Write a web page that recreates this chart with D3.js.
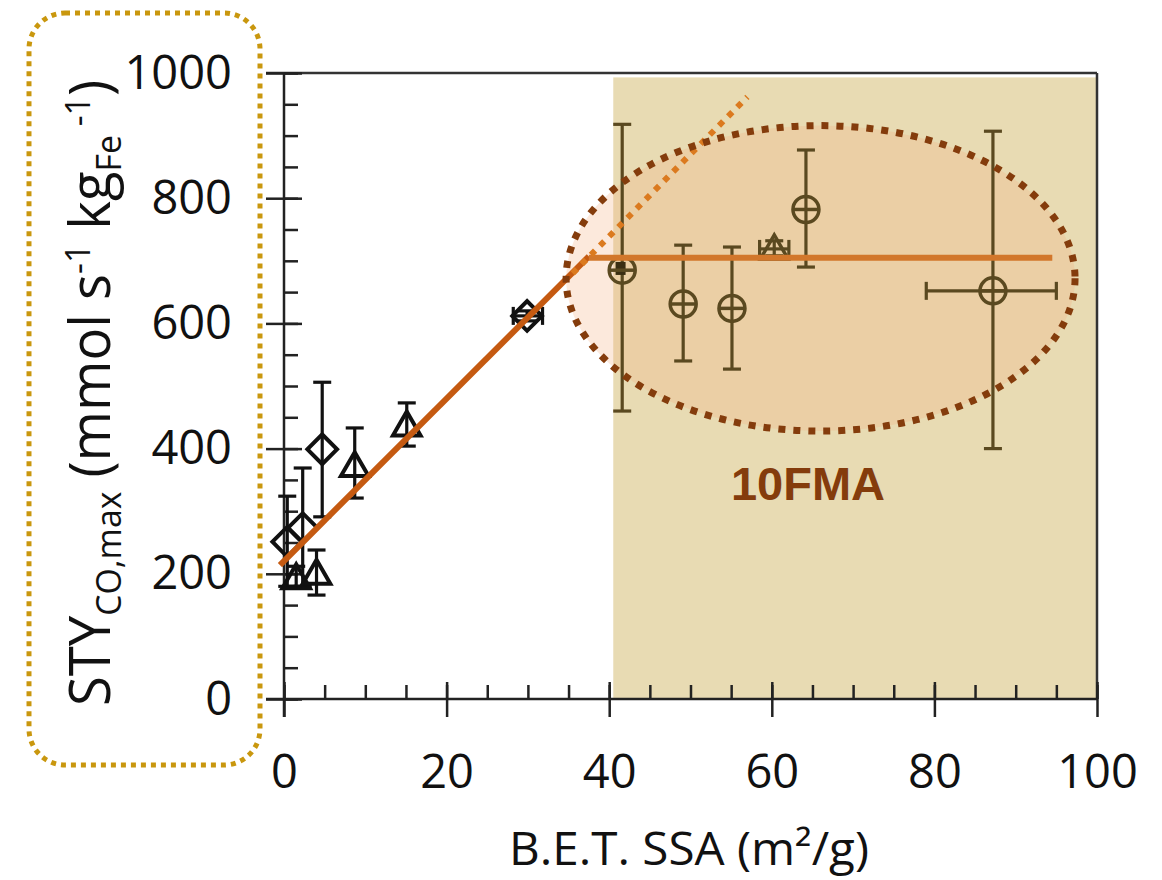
<!DOCTYPE html>
<html>
<head>
<meta charset="utf-8">
<script src="https://cdn.jsdelivr.net/npm/d3@7"></script>
<style>
  html, body { margin: 0; padding: 0; background: #fff; }
  svg { display: block; }
  .tick text { font-family: "Open Sans", sans-serif; font-size: 47px; fill: #111; }
</style>
</head>
<body>
<svg id="chart" width="1162" height="880"></svg>
<script>
// data
const xMajor = [0, 20, 40, 60, 80, 100];
const yMajor = [0, 200, 400, 600, 800, 1000];
const xMinor = d3.range(0, 101, 5);
const yMinor = d3.range(0, 1001, 50);

// open diamonds (low area samples)
const diamonds = [
  { x: 0.4, y: 251, lo: 180, hi: 324 },
  { x: 2.3, y: 273, lo: 180, hi: 369 },
  { x: 4.7, y: 399, lo: 291, hi: 506 },
  { x: 29.9, y: 612, lo: 604, hi: 620, xlo: 28.2, xhi: 31.8 }
];
// open triangles
const triangles = [
  { x: 1.5, y: 193, lo: 180, hi: 212 },
  { x: 4.0, y: 200, lo: 166, hi: 238 },
  { x: 8.7, y: 372, lo: 321, hi: 433 },
  { x: 15.1, y: 437, lo: 404, hi: 473 }
];
// 10FMA circles
const circles = [
  { x: 41.6, y: 685, lo: 460, hi: 918 },
  { x: 49.1, y: 631, lo: 540, hi: 725 },
  { x: 55.1, y: 624, lo: 527, hi: 722 },
  { x: 64.2, y: 782, lo: 690, hi: 877 },
  { x: 87.2, y: 652, lo: 400, hi: 907, xlo: 79.0, xhi: 95.0 }
];
const fmaTriangles = [
  { x: 60.3, y: 719, lo: 708, hi: 732, xlo: 58.5, xhi: 62.1 }
];
const fmaSquares = [{ x: 41.4, y: 687 }];

// piecewise fit
const fitRise = [{ x: -0.5, y: 214 }, { x: 37.5, y: 707 }];
const fitFlat = [{ x: 37.5, y: 705 }, { x: 94.5, y: 705 }];
const fitExtension = [{ x: 35.5, y: 680 }, { x: 57.0, y: 962 }];
const fmaRegion = { x0: 40.5, x1: 100, y0: 0, y1: 993 };
const fmaEllipse = { cx: 66.0, cy: 672, rx: 31.3, ry: 244 };

const svg = d3.select("#chart");
const x = d3.scaleLinear().domain([0, 100]).range([284, 1097]);
const y = d3.scaleLinear().domain([0, 1000]).range([699, 73]);

const DARK = "#5a4920";

// shaded 10FMA region
svg.append("rect")
  .attr("x", x(fmaRegion.x0)).attr("y", y(fmaRegion.y1))
  .attr("width", x(fmaRegion.x1) - x(fmaRegion.x0))
  .attr("height", y(fmaRegion.y0) - y(fmaRegion.y1))
  .attr("fill", "#e8dbb3");

// ellipse fill
svg.append("ellipse")
  .attr("cx", x(fmaEllipse.cx)).attr("cy", y(fmaEllipse.cy))
  .attr("rx", x(fmaEllipse.rx) - x(0)).attr("ry", y(0) - y(fmaEllipse.ry))
  .attr("fill", "#f4b183").attr("fill-opacity", 0.28);

// frame
const frame = svg.append("g").attr("stroke", "#333").attr("stroke-width", 2.5).attr("fill", "none");
frame.append("line").attr("x1", 266).attr("x2", x(100)).attr("y1", y(1000)).attr("y2", y(1000));
frame.append("line").attr("x1", x(100)).attr("x2", x(100)).attr("y1", y(1000)).attr("y2", y(0));

// axes: minor ticks inward, major crossing
function styleAxis(g) {
  g.select(".domain").remove();
  g.selectAll(".tick line").attr("stroke", "#222").attr("stroke-width", 2.5);
}
svg.append("g").attr("transform", `translate(0,${y(0)})`)
  .call(d3.axisBottom(x).tickValues(xMinor).tickSize(-14).tickFormat(""))
  .call(styleAxis);
svg.append("g").attr("transform", `translate(0,${y(0)})`)
  .call(d3.axisBottom(x).tickValues(xMajor).tickSize(-17).tickFormat(""))
  .call(styleAxis);
svg.append("g").attr("transform", `translate(0,${y(0)})`)
  .call(d3.axisBottom(x).tickValues(xMajor).tickSize(18).tickPadding(38).tickFormat(d3.format("d")))
  .call(styleAxis);

svg.append("g").attr("transform", `translate(${x(0)},0)`)
  .call(d3.axisLeft(y).tickValues(yMinor).tickSize(-14).tickFormat(""))
  .call(styleAxis);
svg.append("g").attr("transform", `translate(${x(0)},0)`)
  .call(d3.axisLeft(y).tickValues(yMajor).tickSize(-18).tickFormat(""))
  .call(styleAxis);
svg.append("g").attr("transform", `translate(${x(0)},0)`)
  .call(d3.axisLeft(y).tickValues(yMajor).tickSize(18).tickPadding(34).tickFormat(d3.format("d")))
  .call(styleAxis);

// axis lines
const axl = svg.append("g").attr("stroke", "#222").attr("stroke-width", 2.5);
axl.append("line").attr("x1", 266).attr("x2", x(100)).attr("y1", y(0)).attr("y2", y(0));
axl.append("line").attr("x1", x(0)).attr("x2", x(0)).attr("y1", y(1000)).attr("y2", 717);

// error bars
function errorBars(data, color) {
  const g = svg.append("g").attr("stroke", color).attr("stroke-width", 3.2).attr("fill", "none");
  const cap = 9;
  data.forEach(d => {
    if (d.lo != null) {
      g.append("line").attr("x1", x(d.x)).attr("x2", x(d.x)).attr("y1", y(d.lo)).attr("y2", y(d.hi));
      [d.lo, d.hi].forEach(v => g.append("line")
        .attr("x1", x(d.x) - cap).attr("x2", x(d.x) + cap).attr("y1", y(v)).attr("y2", y(v)));
    }
    if (d.xlo != null) {
      g.append("line").attr("x1", x(d.xlo)).attr("x2", x(d.xhi)).attr("y1", y(d.y)).attr("y2", y(d.y));
      [d.xlo, d.xhi].forEach(v => g.append("line")
        .attr("x1", x(v)).attr("x2", x(v)).attr("y1", y(d.y) - cap).attr("y2", y(d.y) + cap));
    }
  });
}
errorBars(diamonds, "#111");
errorBars(triangles, "#111");
errorBars(circles, DARK);
errorBars(fmaTriangles, DARK);

// markers
svg.append("g").selectAll("path").data(diamonds).join("path")
  .attr("d", d3.symbol(d3.symbolSquare, 440))
  .attr("transform", d => `translate(${x(d.x)},${y(d.y)}) rotate(45)`)
  .attr("fill", "none").attr("stroke", "#111").attr("stroke-width", 4);
svg.append("g").selectAll("path").data(triangles).join("path")
  .attr("d", d3.symbol(d3.symbolTriangle, 330))
  .attr("transform", d => `translate(${x(d.x)},${y(d.y) + 2})`)
  .attr("fill", "none").attr("stroke", "#111").attr("stroke-width", 4);
svg.append("g").selectAll("path").data(fmaTriangles).join("path")
  .attr("d", d3.symbol(d3.symbolTriangle, 330))
  .attr("transform", d => `translate(${x(d.x)},${y(d.y) + 2})`)
  .attr("fill", "none").attr("stroke", DARK).attr("stroke-width", 3.5);
svg.append("g").selectAll("rect").data(fmaSquares).join("rect")
  .attr("x", d => x(d.x) - 5).attr("y", d => y(d.y) - 7).attr("width", 10).attr("height", 13)
  .attr("fill", "#3a2e12");
const cg = svg.append("g").selectAll("g").data(circles).join("g")
  .attr("transform", d => `translate(${x(d.x)},${y(d.y)})`)
  .attr("stroke", DARK).attr("stroke-width", 3.5).attr("fill", "none");
cg.append("circle").attr("r", 13);
cg.append("line").attr("x1", -12).attr("x2", 12);

// fit lines
const line = d3.line().x(d => x(d.x)).y(d => y(d.y));
svg.append("path").datum(fitRise).attr("d", line)
  .attr("stroke", "#c55a11").attr("stroke-width", 6).attr("fill", "none");
svg.append("path").datum(fitFlat).attr("d", line)
  .attr("stroke", "#d2772b").attr("stroke-width", 6).attr("fill", "none");
svg.append("path").datum(fitExtension).attr("d", line)
  .attr("stroke", "#db7a1f").attr("stroke-width", 6).attr("stroke-dasharray", "6 7").attr("fill", "none");

// ellipse outline
svg.append("ellipse")
  .attr("cx", x(fmaEllipse.cx)).attr("cy", y(fmaEllipse.cy))
  .attr("rx", x(fmaEllipse.rx) - x(0)).attr("ry", y(0) - y(fmaEllipse.ry))
  .attr("fill", "none").attr("stroke", "#843c0c").attr("stroke-width", 7).attr("stroke-dasharray", "7 8");

// 10FMA label
svg.append("text").attr("x", 808).attr("y", 500).attr("text-anchor", "middle")
  .attr("font-family", "Liberation Sans, Arial, sans-serif").attr("font-weight", "bold")
  .attr("font-size", 47).attr("fill", "#843c0c").text("10FMA");

// x title
svg.append("text").attr("x", 689).attr("y", 865).attr("text-anchor", "middle")
  .attr("font-family", "Open Sans, sans-serif").attr("font-size", 45).attr("fill", "#111")
  .attr("textLength", 360).attr("lengthAdjust", "spacingAndGlyphs")
  .text("B.E.T. SSA (m²/g)");

// y title
const fs = 56;
const yt = svg.append("text").attr("transform", "translate(110,706) rotate(-90)")
  .attr("font-family", "Open Sans, sans-serif").attr("font-size", fs).attr("fill", "#111");
const parts = [
  ["STY", 0, 1], ["CO,max", 0.2, 0.62], [" (mmol s", -0.2, 1], ["-1", -0.36, 0.62],
  [" kg", 0.36, 1], ["Fe", 0.2, 0.62], [" -1", -0.56, 0.62], [")", 0.36, 1]
];
parts.forEach(([t, dy, s]) => yt.append("tspan").attr("dy", dy * fs).attr("font-size", fs * s).text(t));
yt.attr("textLength", 626).attr("lengthAdjust", "spacingAndGlyphs");

// dotted box round the y title
svg.append("rect").attr("x", 29).attr("y", 13).attr("width", 231).attr("height", 752)
  .attr("rx", 36).attr("fill", "none").attr("stroke", "#c9970e")
  .attr("stroke-width", 5).attr("stroke-dasharray", "5 5");
</script>
</body>
</html>
